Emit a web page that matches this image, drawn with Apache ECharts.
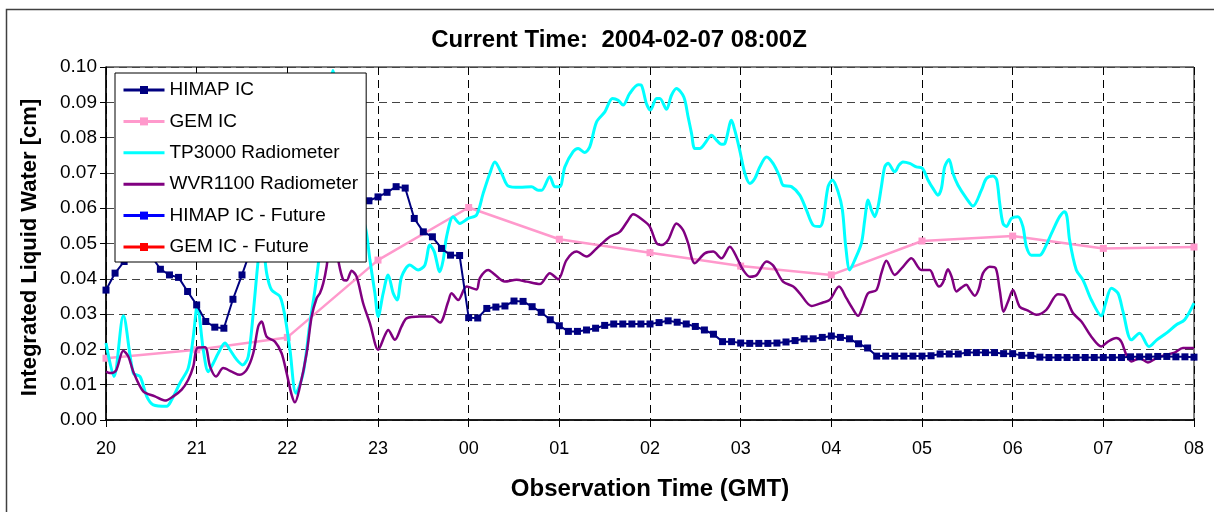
<!DOCTYPE html>
<html>
<head>
<meta charset="utf-8">
<script src="https://cdn.jsdelivr.net/npm/echarts@6/dist/echarts.min.js"></script>
<style>html,body{margin:0;padding:0;background:#fff;}#chart{width:1214px;height:512px;}</style>
</head>
<body>
<div id="chart"></div>
<script>
// ---- data (x in hours since 20:00 GMT) ----
const hourLabels = ['20','21','22','23','00','01','02','03','04','05','06','07','08'];

// HIMAP IC: one value every 6 minutes (0.1 h) from 20:00 to 08:00
const himapValues = [
  0.0368,0.0416,0.0449,0.0475,0.0480,0.0465,0.0427,0.0411,0.0404,0.0364,
  0.0326,0.0279,0.0263,0.0260,0.0342,0.0411,0.0485,0.0510,0.0530,0.0545,
  0.0560,0.0570,0.0580,0.0590,0.0598,0.0605,0.0610,0.0615,0.0618,0.0621,
  0.0632,0.0645,0.0661,0.0657,0.0571,0.0533,0.0519,0.0486,0.0467,0.0466,
  0.0290,0.0289,0.0316,0.0320,0.0323,0.0337,0.0336,0.0321,0.0305,0.0284,
  0.0267,0.0251,0.0251,0.0255,0.0260,0.0268,0.0272,0.0272,0.0272,0.0272,
  0.0272,0.0276,0.0281,0.0277,0.0272,0.0265,0.0255,0.0243,0.0222,0.0222,
  0.0218,0.0217,0.0217,0.0217,0.0218,0.0221,0.0225,0.0230,0.0230,0.0234,
  0.0238,0.0234,0.0230,0.0216,0.0204,0.0181,0.0181,0.0181,0.0181,0.0181,
  0.0181,0.0182,0.0187,0.0187,0.0187,0.0191,0.0191,0.0191,0.0191,0.0188,
  0.0188,0.0183,0.0183,0.0178,0.0177,0.0177,0.0177,0.0177,0.0177,0.0177,
  0.0177,0.0177,0.0177,0.0179,0.0179,0.0179,0.0180,0.0180,0.0179,0.0179,
  0.0178
];
const himapStep = 0.1;

// GEM IC: hourly
const gemTimes  = [0,1,2,3,4,5,6,7,8,9,10,11,12];
const gemValues = [0.0175,0.0199,0.0234,0.0453,0.0602,0.0512,0.0474,0.0436,0.0411,0.0507,0.0521,0.0486,0.0490];

// TP3000 Radiometer
const tpTimes = [0,0.088,0.191,0.301,0.375,0.449,0.521,0.669,0.724,0.816,0.907,0.963,1.007,1.073,1.128,1.183,1.238,1.312,1.367,1.441,1.507,1.569,1.624,1.679,1.72,1.772,1.827,1.918,1.974,2.029,2.095,2.175,2.249,2.304,2.359,2.437,2.503,2.58,2.69,2.8,2.867,2.911,2.966,3.002,3.057,3.112,3.168,3.212,3.26,3.352,3.443,3.517,3.572,3.62,3.682,3.719,3.756,3.829,3.903,3.995,4.087,4.16,4.234,4.289,4.363,4.436,4.564,4.693,4.766,4.804,4.895,4.95,5.006,5.061,5.152,5.207,5.281,5.336,5.41,5.502,5.586,5.648,5.703,5.777,5.869,5.906,5.961,6.005,6.072,6.108,6.182,6.237,6.292,6.373,6.42,6.458,6.494,6.549,6.604,6.678,6.733,6.788,6.825,6.899,6.935,6.99,7.045,7.101,7.156,7.211,7.285,7.357,7.431,7.467,7.56,7.652,7.725,7.798,7.872,7.908,7.964,8.012,8.074,8.122,8.159,8.203,8.258,8.332,8.368,8.405,8.442,8.479,8.515,8.552,8.589,8.625,8.699,8.746,8.79,8.864,8.938,9.004,9.066,9.121,9.176,9.214,9.25,9.298,9.342,9.397,9.49,9.562,9.655,9.71,9.783,9.824,9.857,9.893,9.931,9.986,10.058,10.113,10.151,10.206,10.298,10.331,10.445,10.518,10.573,10.599,10.628,10.702,10.775,10.868,10.978,11.025,11.088,11.162,11.217,11.309,11.4,11.503,11.59,11.695,11.806,11.897,12];
const tpValues = [0.0218,0.0123,0.0295,0.0133,0.0123,0.0067,0.0043,0.0039,0.0057,0.0105,0.0147,0.0236,0.0326,0.0199,0.0137,0.0161,0.0189,0.0218,0.0199,0.0171,0.0156,0.0180,0.0303,0.0453,0.0520,0.0416,0.0368,0.0350,0.0293,0.0199,0.0076,0.0133,0.0274,0.0368,0.0482,0.0750,0.0990,0.0850,0.0700,0.0600,0.0538,0.0453,0.0359,0.0293,0.0359,0.0411,0.0359,0.0340,0.0406,0.0439,0.0425,0.0439,0.0496,0.0477,0.0420,0.0453,0.0519,0.0576,0.0557,0.0571,0.0581,0.0642,0.0699,0.0731,0.0699,0.0663,0.0659,0.0661,0.0651,0.0651,0.0689,0.0661,0.0661,0.0717,0.0760,0.0769,0.0758,0.0774,0.0844,0.0873,0.0911,0.0906,0.0892,0.0925,0.0950,0.0948,0.0896,0.0878,0.0911,0.0911,0.0880,0.0920,0.0939,0.0915,0.0859,0.0812,0.0769,0.0769,0.0783,0.0807,0.0793,0.0781,0.0783,0.0849,0.0821,0.0764,0.0700,0.0670,0.0684,0.0717,0.0745,0.0727,0.0689,0.0665,0.0661,0.0637,0.0595,0.0552,0.0548,0.0566,0.0661,0.0680,0.0647,0.0595,0.0491,0.0425,0.0453,0.0501,0.0566,0.0623,0.0595,0.0576,0.0604,0.0661,0.0717,0.0727,0.0703,0.0722,0.0731,0.0727,0.0717,0.0713,0.0680,0.0656,0.0637,0.0656,0.0717,0.0738,0.0698,0.0665,0.0628,0.0606,0.0651,0.0684,0.0691,0.0680,0.0614,0.0557,0.0548,0.0571,0.0576,0.0548,0.0491,0.0467,0.0467,0.0475,0.0538,0.0576,0.0590,0.0576,0.0510,0.0425,0.0397,0.0340,0.0295,0.0331,0.0373,0.0359,0.0307,0.0227,0.0246,0.0208,0.0227,0.0246,0.0270,0.0284,0.0331];

// WVR1100 Radiometer
const wvrTimes = [0,0.044,0.11,0.191,0.246,0.301,0.411,0.54,0.65,0.742,0.835,0.907,0.963,1.007,1.092,1.147,1.213,1.293,1.386,1.477,1.551,1.624,1.679,1.717,1.772,1.863,1.937,1.992,2.047,2.084,2.139,2.213,2.268,2.323,2.359,2.396,2.433,2.47,2.503,2.536,2.561,2.617,2.654,2.709,2.764,2.837,2.911,3.002,3.076,3.112,3.186,3.26,3.315,3.462,3.591,3.682,3.774,3.811,3.884,3.977,4.087,4.123,4.215,4.27,4.399,4.528,4.638,4.785,4.895,4.987,5.079,5.19,5.3,5.41,5.557,5.667,5.759,5.814,5.924,5.998,6.072,6.127,6.2,6.292,6.365,6.42,6.494,6.604,6.696,6.788,6.88,6.971,7.027,7.101,7.174,7.285,7.357,7.467,7.58,7.652,7.781,7.908,7.982,8.085,8.166,8.222,8.295,8.346,8.405,8.497,8.552,8.607,8.699,8.79,8.883,8.993,9.085,9.14,9.187,9.232,9.287,9.328,9.379,9.434,9.489,9.526,9.581,9.625,9.673,9.746,9.813,9.857,9.901,9.948,10.003,10.077,10.169,10.261,10.371,10.499,10.573,10.665,10.758,10.868,10.978,11.051,11.143,11.198,11.253,11.309,11.4,11.492,11.585,11.695,11.786,11.878,12];
const wvrValues = [0.0137,0.0133,0.0140,0.0196,0.0180,0.0137,0.0081,0.0067,0.0055,0.0067,0.0086,0.0114,0.0152,0.0204,0.0206,0.0152,0.0123,0.0147,0.0137,0.0128,0.0142,0.0189,0.0265,0.0279,0.0236,0.0222,0.0189,0.0133,0.0072,0.0050,0.0095,0.0189,0.0293,0.0345,0.0359,0.0387,0.0434,0.0510,0.0550,0.0500,0.0453,0.0397,0.0395,0.0423,0.0406,0.0330,0.0274,0.0199,0.0240,0.0255,0.0227,0.0265,0.0288,0.0293,0.0293,0.0276,0.0335,0.0359,0.0340,0.0378,0.0370,0.0402,0.0425,0.0416,0.0392,0.0397,0.0392,0.0385,0.0416,0.0399,0.0453,0.0477,0.0463,0.0486,0.0519,0.0533,0.0566,0.0583,0.0566,0.0548,0.0501,0.0496,0.0510,0.0557,0.0538,0.0501,0.0444,0.0472,0.0477,0.0458,0.0491,0.0453,0.0425,0.0406,0.0410,0.0449,0.0438,0.0392,0.0378,0.0359,0.0323,0.0333,0.0340,0.0378,0.0345,0.0321,0.0295,0.0321,0.0359,0.0368,0.0416,0.0451,0.0411,0.0434,0.0458,0.0425,0.0425,0.0397,0.0378,0.0390,0.0427,0.0405,0.0364,0.0375,0.0383,0.0370,0.0352,0.0370,0.0416,0.0434,0.0430,0.0368,0.0307,0.0335,0.0368,0.0321,0.0310,0.0298,0.0312,0.0356,0.0352,0.0303,0.0279,0.0236,0.0208,0.0222,0.0232,0.0222,0.0185,0.0166,0.0175,0.0163,0.0175,0.0185,0.0191,0.0204,0.0204];

const seriesNames = ['HIMAP IC','GEM IC','TP3000 Radiometer','WVR1100 Radiometer','HIMAP IC - Future','GEM IC - Future'];
const titleText = 'Current Time:  2004-02-07 08:00Z';
const xTitle = 'Observation Time (GMT)';
const yTitle = 'Integrated Liquid Water [cm]';

// ---- build ----
const zip = (ts, vs) => vs.map((v, i) => [ts[i], v]);
const himapData = himapValues.map((v, i) => [Math.round(i * himapStep * 10) / 10, v]);
const lineOnly = {2: true, 3: true};
const legendData = seriesNames.map((n, i) => lineOnly[i] ? {name: n, itemStyle: {opacity: 0}} : {name: n});

const FONT = '"Liberation Sans", Arial, sans-serif';
const chart = echarts.init(document.getElementById('chart'), null, {renderer: 'canvas'});
chart.setOption({
  animation: false,
  backgroundColor: '#fff',
  title: {
    text: titleText, left: 619, top: 28, textAlign: 'center', padding: 0,
    textStyle: {fontFamily: FONT, fontWeight: 'bold', fontSize: 24, color: '#000'}
  },
  graphic: [{
    type: 'rect', left: 4, top: 7, z: -1, silent: true,
    shape: {width: 1300, height: 600},
    style: {fill: 'none', stroke: '#404040', lineWidth: 1.5}
  }],
  legend: {
    orient: 'vertical', left: 115, top: 73,
    padding: [7, 8, 5, 7], itemGap: 11.4, itemWidth: 41, itemHeight: 10,
    backgroundColor: '#fff', borderColor: '#000', borderWidth: 1,
    lineStyle: {width: 3},
    textStyle: {fontFamily: FONT, fontSize: 19, color: '#000', lineHeight: 20},
    data: legendData, z: 10
  },
  grid: {left: 106, right: 20, top: 67, bottom: 92, show: true, borderColor: '#000', borderWidth: 1, backgroundColor: 'transparent'},
  xAxis: {
    type: 'value', min: 0, max: 12, interval: 1,
    name: xTitle, nameLocation: 'middle', nameGap: 57,
    nameTextStyle: {fontFamily: FONT, fontWeight: 'bold', fontSize: 24, color: '#000'},
    axisLine: {show: true, lineStyle: {color: '#000', width: 1.5}},
    axisTick: {show: true, length: 7, lineStyle: {color: '#000'}},
    axisLabel: {margin: 20, fontFamily: FONT, fontSize: 18, color: '#000', formatter: v => hourLabels[Math.round(v)]},
    splitLine: {show: true, lineStyle: {color: '#000', type: [8, 5], width: 1}}
  },
  yAxis: {
    type: 'value', min: 0, max: 0.1, interval: 0.01,
    name: yTitle, nameLocation: 'middle', nameGap: 65,
    nameTextStyle: {fontFamily: FONT, fontWeight: 'bold', fontSize: 22, color: '#000', padding: [0, 8, 0, 0]},
    axisLine: {show: true, lineStyle: {color: '#000', width: 1.5}},
    axisTick: {show: true, length: 6, lineStyle: {color: '#000'}},
    axisLabel: {margin: 9, fontFamily: FONT, fontSize: 19, color: '#000', formatter: v => v.toFixed(2)},
    splitLine: {show: true, lineStyle: {color: '#444', type: [8, 5], width: 1}}
  },
  series: [
    {name: seriesNames[0], type: 'line', data: himapData, symbol: 'rect', symbolSize: 7,
     color: '#000080', lineStyle: {width: 2, color: '#000080'}, itemStyle: {color: '#000080'}, z: 5},
    {name: seriesNames[1], type: 'line', data: zip(gemTimes, gemValues), symbol: 'rect', symbolSize: 7,
     color: '#FF99CC', lineStyle: {width: 2.5, color: '#FF99CC'}, itemStyle: {color: '#FF99CC'}, z: 3},
    {name: seriesNames[2], type: 'line', data: zip(tpTimes, tpValues), symbol: 'none', smooth: 0.3,
     color: '#00FFFF', lineStyle: {width: 3, color: '#00FFFF'}, z: 4},
    {name: seriesNames[3], type: 'line', data: zip(wvrTimes, wvrValues), symbol: 'none', smooth: 0.3,
     color: '#800080', lineStyle: {width: 2.5, color: '#800080'}, z: 4},
    {name: seriesNames[4], type: 'line', data: [], symbol: 'rect', symbolSize: 7,
     color: '#0000FF', lineStyle: {width: 2, color: '#0000FF'}, itemStyle: {color: '#0000FF'}},
    {name: seriesNames[5], type: 'line', data: [], symbol: 'rect', symbolSize: 9,
     color: '#FF0000', lineStyle: {width: 2.5, color: '#FF0000'}, itemStyle: {color: '#FF0000'}}
  ]
});
</script>
</body>
</html>
